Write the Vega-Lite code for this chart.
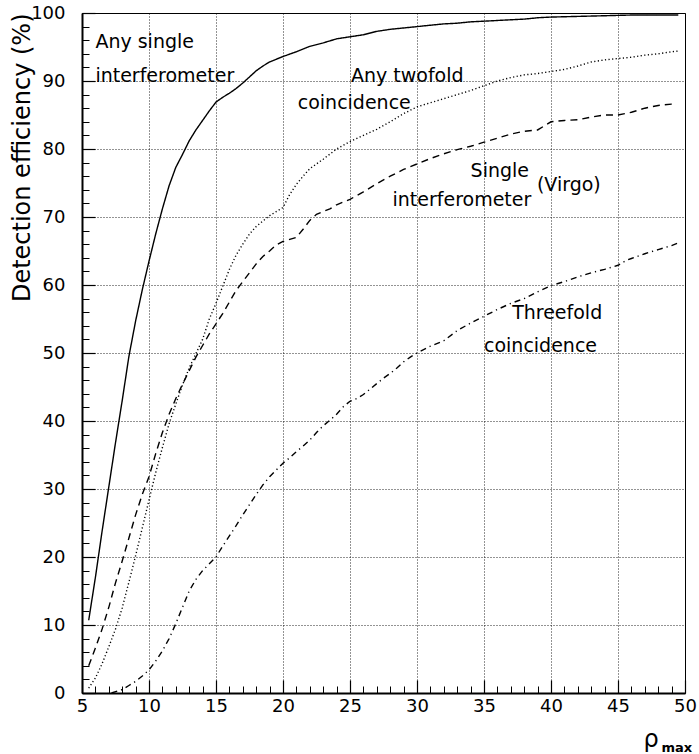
{
  "$schema": "https://vega.github.io/schema/vega-lite/v6.json",
  "width": 603,
  "height": 680,
  "autosize": "none",
  "padding": {"left": 82, "top": 13, "right": 14, "bottom": 61},
  "background": "white",
  "config": {
    "view": {"stroke": "black", "strokeWidth": 1},
    "font": "DejaVu Sans",
    "axis": {"domainColor": "black", "tickColor": "black", "labelColor": "black", "titleColor": "black", "labelFont": "DejaVu Sans", "titleFont": "DejaVu Sans", "titleFontWeight": "normal"}
  },
  "datasets": {
    "curves": [
      {"series": "Any single interferometer", "rho": 5.5, "eff": 10.7},
      {"series": "Any single interferometer", "rho": 6, "eff": 17},
      {"series": "Any single interferometer", "rho": 6.5, "eff": 23.8},
      {"series": "Any single interferometer", "rho": 7, "eff": 30.3},
      {"series": "Any single interferometer", "rho": 7.5, "eff": 36.8},
      {"series": "Any single interferometer", "rho": 8, "eff": 43},
      {"series": "Any single interferometer", "rho": 8.5, "eff": 49.5},
      {"series": "Any single interferometer", "rho": 9, "eff": 54.7},
      {"series": "Any single interferometer", "rho": 9.5, "eff": 59.3},
      {"series": "Any single interferometer", "rho": 10, "eff": 63.5},
      {"series": "Any single interferometer", "rho": 10.5, "eff": 67.5},
      {"series": "Any single interferometer", "rho": 11, "eff": 71.2},
      {"series": "Any single interferometer", "rho": 11.5, "eff": 74.6},
      {"series": "Any single interferometer", "rho": 12, "eff": 77.3},
      {"series": "Any single interferometer", "rho": 12.5, "eff": 79.2},
      {"series": "Any single interferometer", "rho": 13, "eff": 81.2},
      {"series": "Any single interferometer", "rho": 13.5, "eff": 82.8},
      {"series": "Any single interferometer", "rho": 14, "eff": 84.2},
      {"series": "Any single interferometer", "rho": 14.5, "eff": 85.6},
      {"series": "Any single interferometer", "rho": 15, "eff": 86.9},
      {"series": "Any single interferometer", "rho": 15.5, "eff": 87.6},
      {"series": "Any single interferometer", "rho": 16, "eff": 88.2},
      {"series": "Any single interferometer", "rho": 16.5, "eff": 88.9},
      {"series": "Any single interferometer", "rho": 17, "eff": 89.7},
      {"series": "Any single interferometer", "rho": 17.5, "eff": 90.6},
      {"series": "Any single interferometer", "rho": 18, "eff": 91.5},
      {"series": "Any single interferometer", "rho": 18.5, "eff": 92.2},
      {"series": "Any single interferometer", "rho": 19, "eff": 92.8},
      {"series": "Any single interferometer", "rho": 19.5, "eff": 93.2},
      {"series": "Any single interferometer", "rho": 20, "eff": 93.6},
      {"series": "Any single interferometer", "rho": 21, "eff": 94.3},
      {"series": "Any single interferometer", "rho": 22, "eff": 95.1},
      {"series": "Any single interferometer", "rho": 23, "eff": 95.6},
      {"series": "Any single interferometer", "rho": 24, "eff": 96.2},
      {"series": "Any single interferometer", "rho": 25, "eff": 96.5},
      {"series": "Any single interferometer", "rho": 26, "eff": 96.8},
      {"series": "Any single interferometer", "rho": 27, "eff": 97.3},
      {"series": "Any single interferometer", "rho": 28, "eff": 97.6},
      {"series": "Any single interferometer", "rho": 29, "eff": 97.8},
      {"series": "Any single interferometer", "rho": 30, "eff": 98.0},
      {"series": "Any single interferometer", "rho": 31, "eff": 98.2},
      {"series": "Any single interferometer", "rho": 32, "eff": 98.4},
      {"series": "Any single interferometer", "rho": 33, "eff": 98.5},
      {"series": "Any single interferometer", "rho": 34, "eff": 98.7},
      {"series": "Any single interferometer", "rho": 35, "eff": 98.8},
      {"series": "Any single interferometer", "rho": 36, "eff": 98.9},
      {"series": "Any single interferometer", "rho": 37, "eff": 99.0},
      {"series": "Any single interferometer", "rho": 38, "eff": 99.1},
      {"series": "Any single interferometer", "rho": 39, "eff": 99.3},
      {"series": "Any single interferometer", "rho": 40, "eff": 99.4},
      {"series": "Any single interferometer", "rho": 42, "eff": 99.5},
      {"series": "Any single interferometer", "rho": 44, "eff": 99.6},
      {"series": "Any single interferometer", "rho": 46, "eff": 99.7},
      {"series": "Any single interferometer", "rho": 48, "eff": 99.7},
      {"series": "Any single interferometer", "rho": 49.5, "eff": 99.7},

      {"series": "Any twofold coincidence", "rho": 5.5, "eff": 0.7},
      {"series": "Any twofold coincidence", "rho": 6, "eff": 2.2},
      {"series": "Any twofold coincidence", "rho": 6.5, "eff": 4.3},
      {"series": "Any twofold coincidence", "rho": 7, "eff": 6.8},
      {"series": "Any twofold coincidence", "rho": 7.5, "eff": 9.4},
      {"series": "Any twofold coincidence", "rho": 8, "eff": 12.5},
      {"series": "Any twofold coincidence", "rho": 8.5, "eff": 16.3},
      {"series": "Any twofold coincidence", "rho": 9, "eff": 20.2},
      {"series": "Any twofold coincidence", "rho": 9.5, "eff": 24.3},
      {"series": "Any twofold coincidence", "rho": 10, "eff": 28.4},
      {"series": "Any twofold coincidence", "rho": 10.5, "eff": 32.4},
      {"series": "Any twofold coincidence", "rho": 11, "eff": 36.1},
      {"series": "Any twofold coincidence", "rho": 11.5, "eff": 39.6},
      {"series": "Any twofold coincidence", "rho": 12, "eff": 42.5},
      {"series": "Any twofold coincidence", "rho": 12.5, "eff": 45.3},
      {"series": "Any twofold coincidence", "rho": 13, "eff": 47.8},
      {"series": "Any twofold coincidence", "rho": 13.5, "eff": 49.9},
      {"series": "Any twofold coincidence", "rho": 14, "eff": 52.0},
      {"series": "Any twofold coincidence", "rho": 14.5, "eff": 55.0},
      {"series": "Any twofold coincidence", "rho": 15, "eff": 57.3},
      {"series": "Any twofold coincidence", "rho": 15.5, "eff": 59.8},
      {"series": "Any twofold coincidence", "rho": 16, "eff": 62.3},
      {"series": "Any twofold coincidence", "rho": 16.5, "eff": 64.4},
      {"series": "Any twofold coincidence", "rho": 17, "eff": 66.0},
      {"series": "Any twofold coincidence", "rho": 17.5, "eff": 67.5},
      {"series": "Any twofold coincidence", "rho": 18, "eff": 68.6},
      {"series": "Any twofold coincidence", "rho": 18.5, "eff": 69.4},
      {"series": "Any twofold coincidence", "rho": 19, "eff": 70.2},
      {"series": "Any twofold coincidence", "rho": 19.5, "eff": 70.8},
      {"series": "Any twofold coincidence", "rho": 20, "eff": 71.4},
      {"series": "Any twofold coincidence", "rho": 20.5, "eff": 73.3},
      {"series": "Any twofold coincidence", "rho": 21, "eff": 74.8},
      {"series": "Any twofold coincidence", "rho": 21.5, "eff": 76.0},
      {"series": "Any twofold coincidence", "rho": 22, "eff": 77.1},
      {"series": "Any twofold coincidence", "rho": 23, "eff": 78.5},
      {"series": "Any twofold coincidence", "rho": 24, "eff": 80.0},
      {"series": "Any twofold coincidence", "rho": 25, "eff": 81.1},
      {"series": "Any twofold coincidence", "rho": 26, "eff": 82.0},
      {"series": "Any twofold coincidence", "rho": 27, "eff": 82.9},
      {"series": "Any twofold coincidence", "rho": 28, "eff": 84.0},
      {"series": "Any twofold coincidence", "rho": 29, "eff": 85.2},
      {"series": "Any twofold coincidence", "rho": 30, "eff": 86.2},
      {"series": "Any twofold coincidence", "rho": 31, "eff": 86.8},
      {"series": "Any twofold coincidence", "rho": 32, "eff": 87.4},
      {"series": "Any twofold coincidence", "rho": 33, "eff": 88.0},
      {"series": "Any twofold coincidence", "rho": 34, "eff": 88.6},
      {"series": "Any twofold coincidence", "rho": 35, "eff": 89.3},
      {"series": "Any twofold coincidence", "rho": 36, "eff": 90.0},
      {"series": "Any twofold coincidence", "rho": 37, "eff": 90.5},
      {"series": "Any twofold coincidence", "rho": 38, "eff": 90.9},
      {"series": "Any twofold coincidence", "rho": 39, "eff": 91.1},
      {"series": "Any twofold coincidence", "rho": 40, "eff": 91.4},
      {"series": "Any twofold coincidence", "rho": 41, "eff": 91.7},
      {"series": "Any twofold coincidence", "rho": 42, "eff": 92.2},
      {"series": "Any twofold coincidence", "rho": 43, "eff": 92.8},
      {"series": "Any twofold coincidence", "rho": 44, "eff": 93.1},
      {"series": "Any twofold coincidence", "rho": 45, "eff": 93.3},
      {"series": "Any twofold coincidence", "rho": 46, "eff": 93.5},
      {"series": "Any twofold coincidence", "rho": 47, "eff": 93.8},
      {"series": "Any twofold coincidence", "rho": 48, "eff": 94.0},
      {"series": "Any twofold coincidence", "rho": 49, "eff": 94.3},
      {"series": "Any twofold coincidence", "rho": 49.5, "eff": 94.4},

      {"series": "Single interferometer (Virgo)", "rho": 5.5, "eff": 4.0},
      {"series": "Single interferometer (Virgo)", "rho": 6, "eff": 6.6},
      {"series": "Single interferometer (Virgo)", "rho": 6.5, "eff": 9.4},
      {"series": "Single interferometer (Virgo)", "rho": 7, "eff": 12.6},
      {"series": "Single interferometer (Virgo)", "rho": 7.5, "eff": 16.2},
      {"series": "Single interferometer (Virgo)", "rho": 8, "eff": 19.4},
      {"series": "Single interferometer (Virgo)", "rho": 8.5, "eff": 22.8},
      {"series": "Single interferometer (Virgo)", "rho": 9, "eff": 26.2},
      {"series": "Single interferometer (Virgo)", "rho": 9.5, "eff": 29.2},
      {"series": "Single interferometer (Virgo)", "rho": 10, "eff": 31.8},
      {"series": "Single interferometer (Virgo)", "rho": 10.5, "eff": 35.2},
      {"series": "Single interferometer (Virgo)", "rho": 11, "eff": 38.3},
      {"series": "Single interferometer (Virgo)", "rho": 11.5, "eff": 41.0},
      {"series": "Single interferometer (Virgo)", "rho": 12, "eff": 43.3},
      {"series": "Single interferometer (Virgo)", "rho": 12.5, "eff": 45.4},
      {"series": "Single interferometer (Virgo)", "rho": 13, "eff": 47.4},
      {"series": "Single interferometer (Virgo)", "rho": 13.5, "eff": 49.4},
      {"series": "Single interferometer (Virgo)", "rho": 14, "eff": 51.1},
      {"series": "Single interferometer (Virgo)", "rho": 14.5, "eff": 52.8},
      {"series": "Single interferometer (Virgo)", "rho": 15, "eff": 54.3},
      {"series": "Single interferometer (Virgo)", "rho": 15.5, "eff": 55.8},
      {"series": "Single interferometer (Virgo)", "rho": 16, "eff": 57.5},
      {"series": "Single interferometer (Virgo)", "rho": 16.5, "eff": 59.2},
      {"series": "Single interferometer (Virgo)", "rho": 17, "eff": 60.5},
      {"series": "Single interferometer (Virgo)", "rho": 17.5, "eff": 61.8},
      {"series": "Single interferometer (Virgo)", "rho": 18, "eff": 63.1},
      {"series": "Single interferometer (Virgo)", "rho": 18.5, "eff": 64.2},
      {"series": "Single interferometer (Virgo)", "rho": 19, "eff": 65.0},
      {"series": "Single interferometer (Virgo)", "rho": 19.5, "eff": 65.9},
      {"series": "Single interferometer (Virgo)", "rho": 20, "eff": 66.4},
      {"series": "Single interferometer (Virgo)", "rho": 20.5, "eff": 66.7},
      {"series": "Single interferometer (Virgo)", "rho": 21, "eff": 67.0},
      {"series": "Single interferometer (Virgo)", "rho": 21.5, "eff": 68.2},
      {"series": "Single interferometer (Virgo)", "rho": 22, "eff": 69.5},
      {"series": "Single interferometer (Virgo)", "rho": 22.5, "eff": 70.4},
      {"series": "Single interferometer (Virgo)", "rho": 23, "eff": 70.8},
      {"series": "Single interferometer (Virgo)", "rho": 23.5, "eff": 71.2},
      {"series": "Single interferometer (Virgo)", "rho": 24, "eff": 71.8},
      {"series": "Single interferometer (Virgo)", "rho": 25, "eff": 72.6},
      {"series": "Single interferometer (Virgo)", "rho": 26, "eff": 73.7},
      {"series": "Single interferometer (Virgo)", "rho": 27, "eff": 74.9},
      {"series": "Single interferometer (Virgo)", "rho": 28, "eff": 76.0},
      {"series": "Single interferometer (Virgo)", "rho": 29, "eff": 77.0},
      {"series": "Single interferometer (Virgo)", "rho": 30, "eff": 77.8},
      {"series": "Single interferometer (Virgo)", "rho": 31, "eff": 78.6},
      {"series": "Single interferometer (Virgo)", "rho": 32, "eff": 79.3},
      {"series": "Single interferometer (Virgo)", "rho": 33, "eff": 79.9},
      {"series": "Single interferometer (Virgo)", "rho": 34, "eff": 80.4},
      {"series": "Single interferometer (Virgo)", "rho": 35, "eff": 81.0},
      {"series": "Single interferometer (Virgo)", "rho": 36, "eff": 81.6},
      {"series": "Single interferometer (Virgo)", "rho": 37, "eff": 82.2},
      {"series": "Single interferometer (Virgo)", "rho": 38, "eff": 82.6},
      {"series": "Single interferometer (Virgo)", "rho": 39, "eff": 82.8},
      {"series": "Single interferometer (Virgo)", "rho": 40, "eff": 84.0},
      {"series": "Single interferometer (Virgo)", "rho": 41, "eff": 84.2},
      {"series": "Single interferometer (Virgo)", "rho": 42, "eff": 84.3},
      {"series": "Single interferometer (Virgo)", "rho": 43, "eff": 84.7},
      {"series": "Single interferometer (Virgo)", "rho": 44, "eff": 85.0},
      {"series": "Single interferometer (Virgo)", "rho": 45, "eff": 85.0},
      {"series": "Single interferometer (Virgo)", "rho": 46, "eff": 85.4},
      {"series": "Single interferometer (Virgo)", "rho": 47, "eff": 86.0},
      {"series": "Single interferometer (Virgo)", "rho": 48, "eff": 86.4},
      {"series": "Single interferometer (Virgo)", "rho": 49, "eff": 86.6},
      {"series": "Single interferometer (Virgo)", "rho": 49.3, "eff": 86.6},

      {"series": "Threefold coincidence", "rho": 7.2, "eff": 0},
      {"series": "Threefold coincidence", "rho": 8, "eff": 0.5},
      {"series": "Threefold coincidence", "rho": 8.5, "eff": 1.1},
      {"series": "Threefold coincidence", "rho": 9, "eff": 1.7},
      {"series": "Threefold coincidence", "rho": 9.5, "eff": 2.5},
      {"series": "Threefold coincidence", "rho": 10, "eff": 3.4},
      {"series": "Threefold coincidence", "rho": 10.5, "eff": 4.7},
      {"series": "Threefold coincidence", "rho": 11, "eff": 6.2},
      {"series": "Threefold coincidence", "rho": 11.5, "eff": 8.0},
      {"series": "Threefold coincidence", "rho": 12, "eff": 10.2},
      {"series": "Threefold coincidence", "rho": 12.5, "eff": 12.6},
      {"series": "Threefold coincidence", "rho": 13, "eff": 15.0},
      {"series": "Threefold coincidence", "rho": 13.5, "eff": 16.7},
      {"series": "Threefold coincidence", "rho": 14, "eff": 18.0},
      {"series": "Threefold coincidence", "rho": 14.5, "eff": 19.0},
      {"series": "Threefold coincidence", "rho": 15, "eff": 20.0},
      {"series": "Threefold coincidence", "rho": 15.5, "eff": 21.6},
      {"series": "Threefold coincidence", "rho": 16, "eff": 23.1},
      {"series": "Threefold coincidence", "rho": 16.5, "eff": 24.6},
      {"series": "Threefold coincidence", "rho": 17, "eff": 26.2},
      {"series": "Threefold coincidence", "rho": 17.5, "eff": 27.7},
      {"series": "Threefold coincidence", "rho": 18, "eff": 29.2},
      {"series": "Threefold coincidence", "rho": 18.5, "eff": 30.6},
      {"series": "Threefold coincidence", "rho": 19, "eff": 31.8},
      {"series": "Threefold coincidence", "rho": 19.5, "eff": 32.8},
      {"series": "Threefold coincidence", "rho": 20, "eff": 33.8},
      {"series": "Threefold coincidence", "rho": 20.5, "eff": 34.6},
      {"series": "Threefold coincidence", "rho": 21, "eff": 35.5},
      {"series": "Threefold coincidence", "rho": 21.5, "eff": 36.3},
      {"series": "Threefold coincidence", "rho": 22, "eff": 37.2},
      {"series": "Threefold coincidence", "rho": 22.5, "eff": 38.3},
      {"series": "Threefold coincidence", "rho": 23, "eff": 39.3},
      {"series": "Threefold coincidence", "rho": 23.5, "eff": 40.1},
      {"series": "Threefold coincidence", "rho": 24, "eff": 41.0},
      {"series": "Threefold coincidence", "rho": 24.5, "eff": 42.1},
      {"series": "Threefold coincidence", "rho": 25, "eff": 42.9},
      {"series": "Threefold coincidence", "rho": 25.5, "eff": 43.3},
      {"series": "Threefold coincidence", "rho": 26, "eff": 43.9},
      {"series": "Threefold coincidence", "rho": 26.5, "eff": 44.7},
      {"series": "Threefold coincidence", "rho": 27, "eff": 45.5},
      {"series": "Threefold coincidence", "rho": 27.5, "eff": 46.3},
      {"series": "Threefold coincidence", "rho": 28, "eff": 47.0},
      {"series": "Threefold coincidence", "rho": 28.5, "eff": 47.8},
      {"series": "Threefold coincidence", "rho": 29, "eff": 48.7},
      {"series": "Threefold coincidence", "rho": 29.5, "eff": 49.4},
      {"series": "Threefold coincidence", "rho": 30, "eff": 50.0},
      {"series": "Threefold coincidence", "rho": 31, "eff": 51.0},
      {"series": "Threefold coincidence", "rho": 32, "eff": 51.8},
      {"series": "Threefold coincidence", "rho": 33, "eff": 53.3},
      {"series": "Threefold coincidence", "rho": 34, "eff": 54.4},
      {"series": "Threefold coincidence", "rho": 35, "eff": 55.4},
      {"series": "Threefold coincidence", "rho": 36, "eff": 56.4},
      {"series": "Threefold coincidence", "rho": 37, "eff": 57.3},
      {"series": "Threefold coincidence", "rho": 38, "eff": 58.0},
      {"series": "Threefold coincidence", "rho": 39, "eff": 59.0},
      {"series": "Threefold coincidence", "rho": 40, "eff": 59.9},
      {"series": "Threefold coincidence", "rho": 41, "eff": 60.5},
      {"series": "Threefold coincidence", "rho": 42, "eff": 61.2},
      {"series": "Threefold coincidence", "rho": 43, "eff": 61.8},
      {"series": "Threefold coincidence", "rho": 44, "eff": 62.3},
      {"series": "Threefold coincidence", "rho": 45, "eff": 62.9},
      {"series": "Threefold coincidence", "rho": 45.6, "eff": 63.6},
      {"series": "Threefold coincidence", "rho": 46, "eff": 63.9},
      {"series": "Threefold coincidence", "rho": 47, "eff": 64.6},
      {"series": "Threefold coincidence", "rho": 48, "eff": 65.2},
      {"series": "Threefold coincidence", "rho": 49, "eff": 65.8},
      {"series": "Threefold coincidence", "rho": 49.5, "eff": 66.2}
    ],
    "labels": [
      {"x": 6.0, "y": 95.8, "text": "Any single"},
      {"x": 6.0, "y": 90.7, "text": "interferometer"},
      {"x": 25.07, "y": 90.7, "text": "Any twofold"},
      {"x": 21.1, "y": 86.8, "text": "coincidence"},
      {"x": 34.0, "y": 76.7, "text": "Single"},
      {"x": 28.17, "y": 72.5, "text": "interferometer"},
      {"x": 38.95, "y": 74.75, "text": "(Virgo)"},
      {"x": 37.1, "y": 55.9, "text": "Threefold"},
      {"x": 35.0, "y": 51.0, "text": "coincidence"}
    ]
  },
  "resolve": {"axis": {"x": "independent", "y": "independent"}},
  "layer": [
    {
      "data": {"name": "curves"},
      "mark": {"type": "line", "color": "black", "strokeWidth": 1.4},
      "encoding": {
        "x": {
          "field": "rho", "type": "quantitative",
          "scale": {"domain": [5, 50], "nice": false, "zero": false},
          "axis": {
            "orient": "bottom", "values": [5, 10, 15, 20, 25, 30, 35, 40, 45, 50],
            "tickSize": -13, "tickWidth": 1.2, "labelPadding": 17, "labelFontSize": 18,
            "labelFlush": false, "labelOverlap": false,
            "domainWidth": 2, "grid": true, "gridColor": "black", "gridDash": [1, 2], "gridWidth": 1, "gridOpacity": 0.85,
            "title": "ρ", "titleFontSize": 24, "titleX": 561, "titleY": 53, "titleAlign": "left", "titleBaseline": "alphabetic", "titleAnchor": "start"
          }
        },
        "y": {
          "field": "eff", "type": "quantitative",
          "scale": {"domain": [0, 100], "nice": false, "zero": false},
          "axis": {
            "orient": "left", "values": [0, 10, 20, 30, 40, 50, 60, 70, 80, 90, 100],
            "tickSize": -13, "tickWidth": 1.2, "labelPadding": 30, "labelFontSize": 18,
            "labelFlush": false, "labelOverlap": false,
            "domainWidth": 2, "grid": true, "gridColor": "black", "gridDash": [1, 2], "gridWidth": 1, "gridOpacity": 0.85,
            "title": "Detection efficiency (%)", "titleFontSize": 24, "titleX": -60, "titleY": 0, "titleAngle": 270, "titleAlign": "right", "titleBaseline": "middle", "titleAnchor": "end"
          }
        },
        "detail": {"field": "series"},
        "strokeDash": {
          "field": "series", "type": "nominal",
          "scale": {
            "domain": ["Any single interferometer", "Any twofold coincidence", "Single interferometer (Virgo)", "Threefold coincidence"],
            "range": [[1, 0], [1.2, 2.4], [7, 5], [6, 4, 1.2, 4]]
          },
          "legend": null
        }
      }
    },
    {
      "data": {"name": "labels"},
      "mark": {"type": "text", "align": "left", "baseline": "middle", "fontSize": 19, "font": "DejaVu Sans", "color": "black"},
      "encoding": {
        "x": {
          "field": "x", "type": "quantitative",
          "scale": {"domain": [5, 50], "nice": false, "zero": false},
          "axis": {
            "orient": "bottom",
            "values": [6, 7, 8, 9, 11, 12, 13, 14, 16, 17, 18, 19, 21, 22, 23, 24, 26, 27, 28, 29, 31, 32, 33, 34, 36, 37, 38, 39, 41, 42, 43, 44, 46, 47, 48, 49],
            "tickSize": -7, "tickWidth": 1, "labels": false, "domain": false, "grid": false,
            "title": "max", "titleFontSize": 13, "titleFontWeight": "bold", "titleX": 579, "titleY": 58, "titleAlign": "left", "titleBaseline": "alphabetic", "titleAnchor": "start"
          }
        },
        "y": {
          "field": "y", "type": "quantitative",
          "scale": {"domain": [0, 100], "nice": false, "zero": false},
          "axis": {
            "orient": "left",
            "values": [2, 4, 6, 8, 12, 14, 16, 18, 22, 24, 26, 28, 32, 34, 36, 38, 42, 44, 46, 48, 52, 54, 56, 58, 62, 64, 66, 68, 72, 74, 76, 78, 82, 84, 86, 88, 92, 94, 96, 98],
            "tickSize": -7, "tickWidth": 1, "labels": false, "domain": false, "grid": false, "title": null
          }
        },
        "text": {"field": "text"}
      }
    }
  ]
}
